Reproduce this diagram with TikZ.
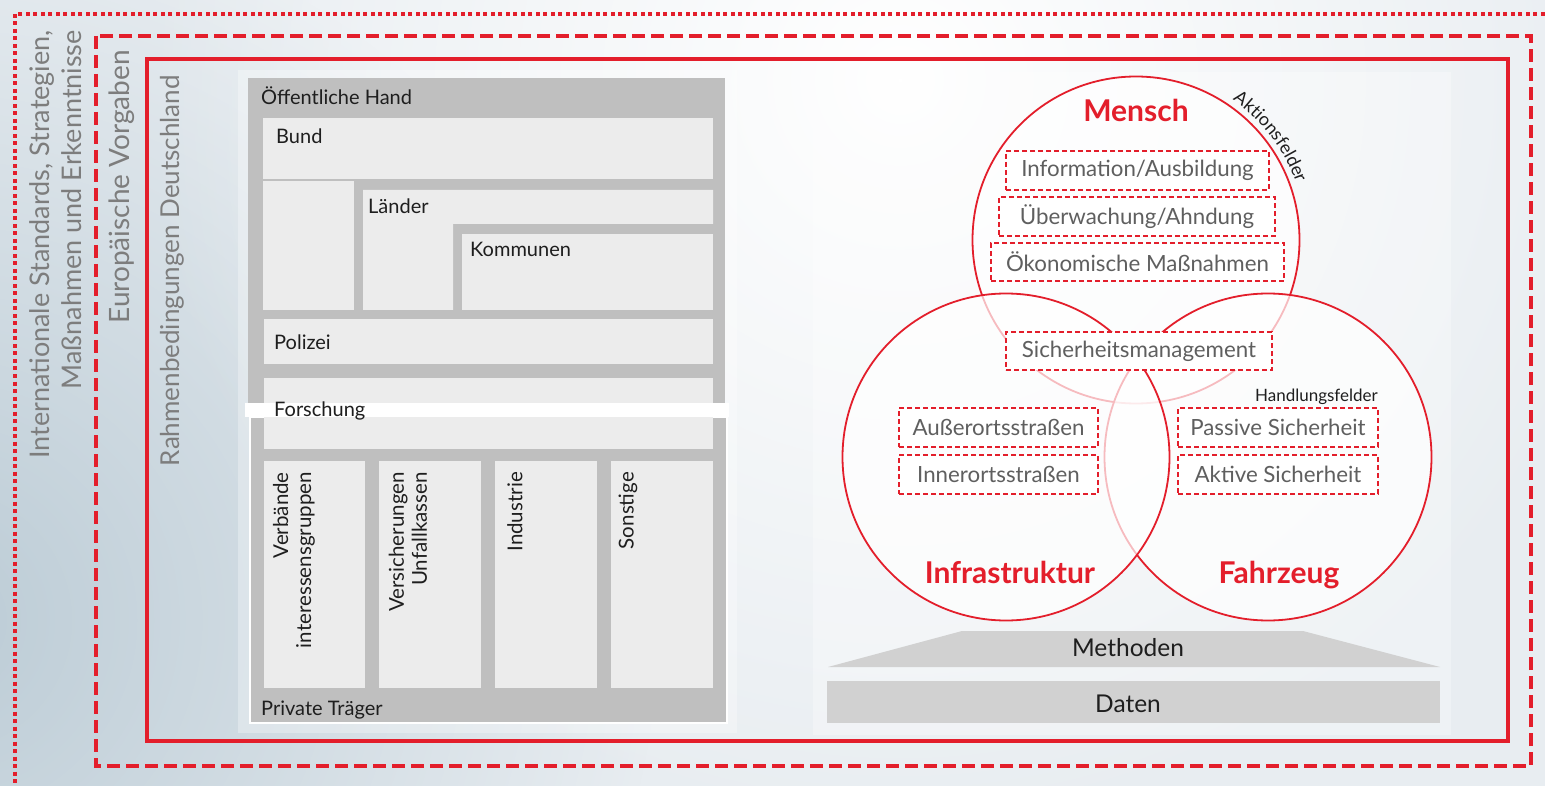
\documentclass[tikz,border=0pt]{standalone}
\usepackage{fontspec}
\setmainfont{Lato}
\usetikzlibrary{calc,fadings,decorations.text}

\definecolor{redc}{RGB}{227,30,43}
\definecolor{grayout}{RGB}{191,191,191}
\definecolor{graycell}{RGB}{236,236,236}
\definecolor{sidetext}{RGB}{125,125,125}
\definecolor{fieldtext}{RGB}{95,95,95}
\definecolor{basegray}{RGB}{209,209,209}
\definecolor{bglight}{RGB}{232,237,241}
\definecolor{bgdark}{RGB}{188,204,214}
\definecolor{inktext}{RGB}{30,30,30}

\tikzfading[name=softblob, inner color=transparent!0, outer color=transparent!100]

\newcommand\fsz[2]{\fontsize{#1}{#2}\selectfont}

\tikzset{
  outerdots/.style={draw=redc, line width=4pt, dash pattern=on 4pt off 3.5pt},
  outerdash/.style={draw=redc, line width=4pt, dash pattern=on 13pt off 6pt},
  innerframe/.style={draw=redc, line width=4pt},
  sidelabel/.style={rotate=90, anchor=east, align=right, inner sep=0pt,
    text=sidetext, font=\fsz{27}{32}},
  cell/.style={fill=graycell},
  celllabel/.style={anchor=base west, inner sep=0pt, text=inktext, font=\fsz{20}{24}},
  collabel/.style={rotate=90, anchor=east, align=right, inner sep=0pt,
    text=inktext, font=\fsz{20.5}{23}},
  area/.style={circle, draw=redc, line width=1.8pt, fill=white,
    fill opacity=0.7, draw opacity=1, minimum size=327pt, inner sep=0pt},
  arealabel/.style={anchor=base, inner sep=0pt, text=redc, font=\bfseries\fsz{30}{34}},
  field/.style={rectangle, draw=redc, line width=1.3pt, dash pattern=on 5pt off 3pt,
    fill=white, text=fieldtext, font=\fsz{22.3}{26}, inner sep=0pt},
  baselabel/.style={anchor=base, inner sep=0pt, text=inktext, font=\fsz{24.5}{28}}
}

\begin{document}
\begin{tikzpicture}[x=1pt,y=1pt]
\useasboundingbox (0,0) rectangle (1545,-786);

% background wash
\begin{scope}
  \clip (0,0) rectangle (1545,-786);
  \fill[bglight] (0,0) rectangle (1545,-786);
  \fill[bgdark, path fading=softblob] (-60,-620) circle (720);
  \fill[white, path fading=softblob] (900,-80) circle (760);
  \fill[white, opacity=0.3] (238,-70) rectangle (737,-733);
  \fill[white, opacity=0.3] (813,-72) rectangle (1451,-735);
\end{scope}

% nested frames
\draw[outerdots] (15,-14) rectangle (1570,-810);
\draw[outerdash] (96,-36) rectangle (1531,-766);
\draw[innerframe] (147,-59) rectangle (1508,-741);

\node[sidelabel] (intl) at (56,-30) {Internationale Standards, Strategien,\\Maßnahmen und Erkenntnisse};
\node[sidelabel, font=\fsz{28}{32}] (eu) at (122,-50) {Europäische Vorgaben};
\node[sidelabel, font=\fsz{26}{32}] (de) at (172,-75) {Rahmenbedingungen Deutschland};

% actors: public and private bodies
\fill[grayout] (248,-78) rectangle (725,-403);
\fill[grayout, draw=white, line width=1.5pt] (250,-417) rectangle (727,-723);

\fill[cell] (263,-118) rectangle (713,-179);
\fill[cell] (263,-181) rectangle (354,-310);
\fill[cell] (363,-190) -- (713,-190) -- (713,-224) -- (453,-224) -- (453,-310) -- (363,-310) -- cycle;
\fill[cell] (462,-234) rectangle (713,-310);
\fill[cell] (264,-319) rectangle (713,-364);
\fill[cell] (264,-378) rectangle (713,-449);
\fill[white] (245,-403) rectangle (729,-417);

\fill[cell] (264,-461) rectangle (365,-688);
\fill[cell] (379,-461) rectangle (481,-688);
\fill[cell] (495,-461) rectangle (597,-688);
\fill[cell] (611,-461) rectangle (713,-688);

\node[celllabel] (oh) at (261,-105) {Öffentliche Hand};
\node[celllabel] (bund) at (276,-144) {Bund};
\node[celllabel] (laender) at (368,-214) {Länder};
\node[celllabel] (kommunen) at (470,-257) {Kommunen};
\node[celllabel] (polizei) at (274,-349) {Polizei};
\node[celllabel] (forschung) at (274,-416) {Forschung};
\node[celllabel] (privat) at (261,-715) {Private Träger};

\node[collabel] (verb) at (294,-472) {Verbände\\interessensgruppen};
\node[collabel] (vers) at (408,-472) {Versicherungen\\Unfallkassen};
\node[collabel] (ind) at (515,-472) {Industrie};
\node[collabel] (sonst) at (628,-472) {Sonstige};

% fields of action
\node[area] (mensch) at (1136,-240) {};
\node[area] (fahrzeug) at (1268,-457) {};
\node[area] (infra) at (1006,-457) {};

\path[decorate, decoration={text along path, text align=center,
    text={|\fsz{18}{20}\color{inktext}|Aktionsfelder}}]
  ($(mensch.center)+(61:170)$) arc[start angle=61, end angle=14, radius=170];

\node[arealabel] (menschlbl) at (1136,-122) {Mensch};
\node[arealabel] (infralbl) at (1010,-583) {Infrastruktur};
\node[arealabel] (fahrlbl) at (1279,-583) {Fahrzeug};

\node[field, minimum width=263pt, minimum height=39pt] (info) at (1137.5,-170.5) {Information/Ausbildung};
\node[field, minimum width=276pt, minimum height=39pt] (ueber) at (1137,-216.5) {Überwachung/Ahndung};
\node[field, minimum width=293pt, minimum height=38pt] (oeko) at (1137.5,-262) {Ökonomische Maßnahmen};
\node[field, minimum width=266pt, minimum height=38pt] (sicher) at (1139,-351) {Sicherheitsmanagement};
\node[field, minimum width=199pt, minimum height=39pt] (aussen) at (998.5,-427.5) {Außerortsstraßen};
\node[field, minimum width=199pt, minimum height=39pt] (innen) at (998.5,-474.5) {Innerortsstraßen};
\node[field, minimum width=200pt, minimum height=39pt] (passiv) at (1278,-427.5) {Passive Sicherheit};
\node[field, minimum width=200pt, minimum height=39pt] (aktiv) at (1278,-474.5) {Aktive Sicherheit};

\node[anchor=base east, inner sep=0pt, text=inktext, font=\fsz{17}{20}] (handl) at (1378,-401) {Handlungsfelder};

% methods and data base
\fill[basegray] (828,-667) -- (962,-631) -- (1303,-631) -- (1440,-667) -- cycle;
\fill[basegray] (827,-681) rectangle (1440,-723);
\node[baselabel] (methoden) at (1128,-656) {Methoden};
\node[baselabel] (daten) at (1128,-712) {Daten};

\end{tikzpicture}
\end{document}
